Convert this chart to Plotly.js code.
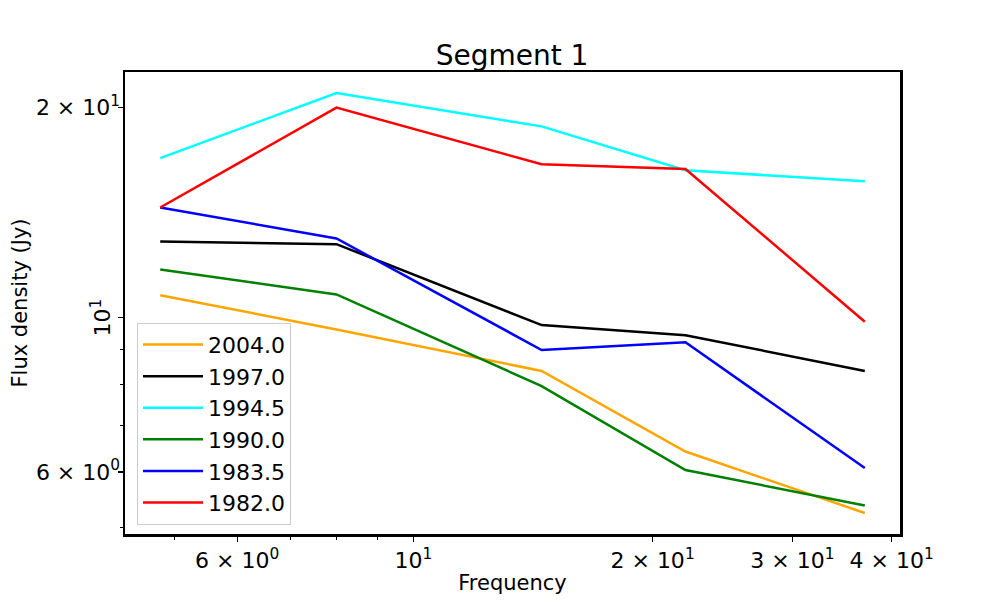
<!DOCTYPE html>
<html>
<head>
<meta charset="utf-8">
<script src="https://cdn.plot.ly/plotly-3.0.1.min.js"></script>
<style>html,body{margin:0;padding:0;background:#fff;}#plot{width:1000px;height:600px;}</style>
</head>
<body>
<div id="plot"></div>
<script>
// Frequencies (GHz)
const frequency = [4.8, 8.0, 14.5, 22.0, 37.0];

// Series (legend order)
const seriesNames = ["2004.0", "1997.0", "1994.5", "1990.0", "1983.5", "1982.0"];
const flux2004 = [10.76, 9.61, 8.38, 6.42, 5.24];
const flux1997 = [12.85, 12.74, 9.75, 9.43, 8.38];
const flux1994_5 = [16.93, 20.99, 18.80, 16.26, 15.68];
const flux1990 = [11.72, 10.79, 7.97, 6.04, 5.37];
const flux1983_5 = [14.38, 12.98, 8.98, 9.21, 6.08];
const flux1982 = [14.38, 20.00, 16.59, 16.33, 9.86];
const seriesColors = ["#ffa500", "#000000", "#00ffff", "#008000", "#0000ff", "#ff0000"];

// Tick labels
const xTickVals = [6, 10, 20, 30, 40];
const xTickText = ["6 × 10<sup>0</sup>", "10<sup>1</sup>", "2 × 10<sup>1</sup>", "3 × 10<sup>1</sup>", "4 × 10<sup>1</sup>"];
const xMinorVals = [5, 7, 8, 9];
const yTickVals = [6, 10, 20];
const yTickText = ["6 × 10<sup>0</sup>", "", "2 × 10<sup>1</sup>"];
const yMinorVals = [5, 7, 8, 9];

const allSeries = [flux2004, flux1997, flux1994_5, flux1990, flux1983_5, flux1982];

const traces = allSeries.map((ys, i) => ({
  x: frequency,
  y: ys,
  type: "scatter",
  mode: "lines",
  name: seriesNames[i],
  legendgroup: "g" + i,
  line: {color: seriesColors[i], width: 2.5}
}));

const font = "DejaVu Sans, sans-serif";

const layout = {
  width: 1000,
  height: 600,
  paper_bgcolor: "#ffffff",
  plot_bgcolor: "#ffffff",
  margin: {l: 125, r: 100, t: 72, b: 66},
  font: {family: font, size: 22, color: "#000"},
  title: {
    text: "Segment 1",
    font: {family: font, size: 28, color: "#000"},
    x: 0.512, xanchor: "center",
    y: 1 - 55/600, yanchor: "middle", yref: "container"
  },
  showlegend: true,
  legend: {
    x: 0.0155, y: 0.02, xanchor: "left", yanchor: "bottom",
    bgcolor: "rgba(255,255,255,0.8)",
    bordercolor: "#cccccc", borderwidth: 1,
    font: {family: font, size: 22, color: "#000"},
    tracegroupgap: 0,
    itemwidth: 60
  },
  xaxis: {
    type: "log",
    range: [0.6369, 1.6125],
    tickmode: "array",
    tickvals: xTickVals,
    ticktext: xTickText,
    ticks: "outside", ticklen: 5, tickwidth: 1.2, tickcolor: "#000",
    minor: {tickmode: "array", tickvals: xMinorVals, ticks: "outside", ticklen: 3, tickwidth: 1, tickcolor: "#000", showgrid: false},
    showgrid: false, zeroline: false,
    showline: true, linecolor: "#000", linewidth: 2.5, mirror: true,
    tickfont: {family: font, size: 22, color: "#000"},
    title: {text: "Frequency", font: {family: font, size: 21, color: "#000"}, standoff: 4}
  },
  yaxis: {
    type: "log",
    range: [0.6892, 1.3522],
    tickmode: "array",
    tickvals: yTickVals,
    ticktext: yTickText,
    ticks: "outside", ticklen: 5, tickwidth: 1.2, tickcolor: "#000",
    ticklabelstandoff: -7,
    minor: {tickmode: "array", tickvals: yMinorVals, ticks: "outside", ticklen: 3, tickwidth: 1, tickcolor: "#000", showgrid: false},
    showgrid: false, zeroline: false,
    showline: true, linecolor: "#000", linewidth: 2.5, mirror: true,
    tickfont: {family: font, size: 22, color: "#000"},
    title: {text: "Flux density (Jy)", font: {family: font, size: 21, color: "#000"}, standoff: 3}
  },
  annotations: [{
    text: "10<sup>1</sup>",
    xref: "paper", yref: "y",
    x: -0.031, y: 1,
    xanchor: "center", yanchor: "middle",
    textangle: -90, showarrow: false,
    font: {family: font, size: 22, color: "#000"}
  }]
};

Plotly.newPlot("plot", traces, layout, {displayModeBar: false, staticPlot: true});
</script>
</body>
</html>
